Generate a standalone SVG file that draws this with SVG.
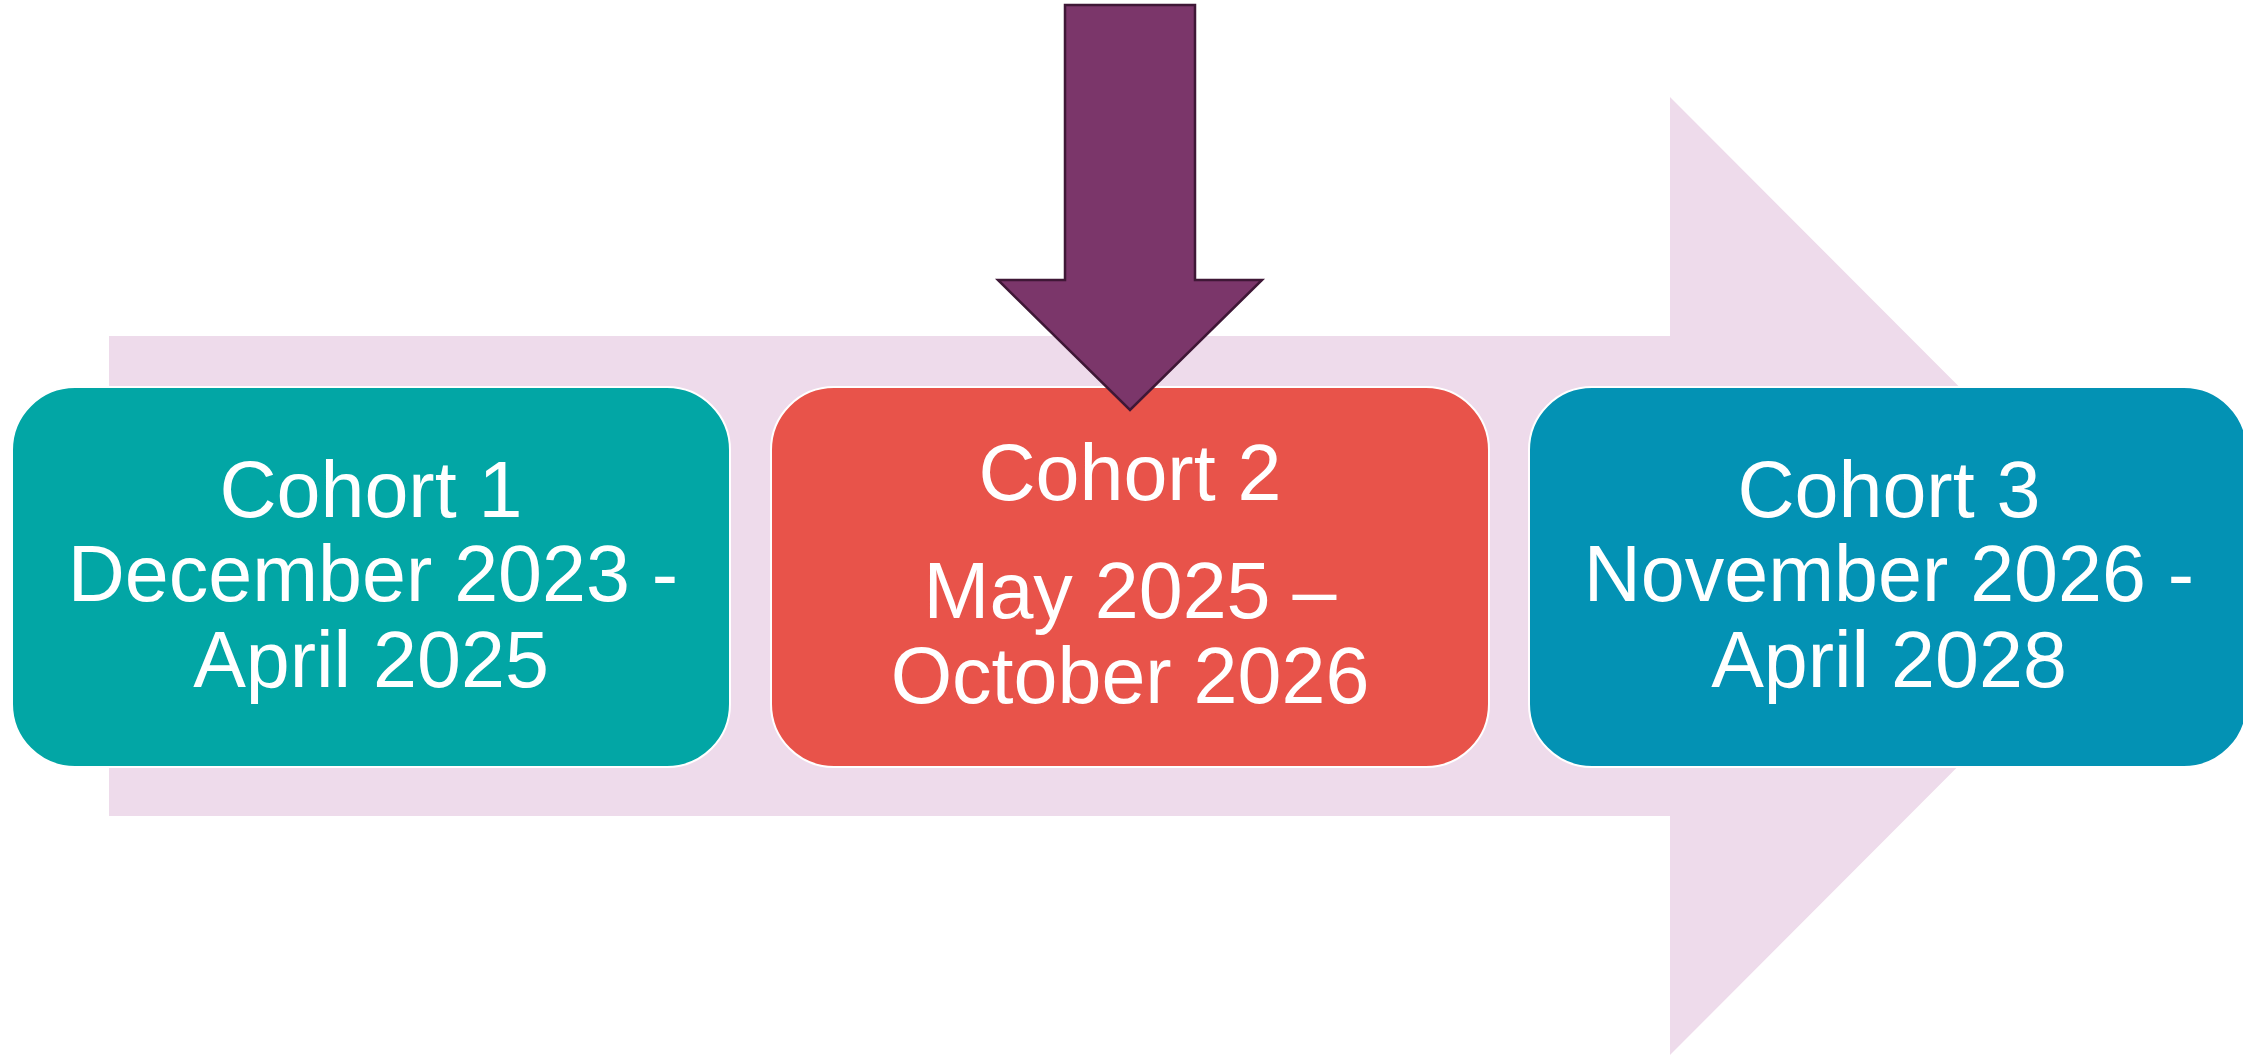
<svg xmlns="http://www.w3.org/2000/svg" width="2243" height="1055" viewBox="0 0 2243 1055">
<style>
.box{stroke:#ffffff;stroke-width:2}
.lbl{font-family:"Liberation Sans",Arial,sans-serif;font-size:79px;fill:#ffffff;text-anchor:middle}
</style>
<rect width="2243" height="1055" fill="#ffffff"/>
<g id="arrows">
<polygon id="timeline-arrow" points="109,336 1670,336 1670,97 2148,576 1670,1055 1670,816 109,816" fill="#EEDBEB"/>
</g>
<g id="cohort1">
<rect class="box" x="12" y="387" width="718" height="380" rx="63" ry="63" fill="#02A6A5"/>
<text class="lbl" x="371" y="517">Cohort 1</text>
<text class="lbl" x="373" y="601">December 2023 -</text>
<text class="lbl" x="371" y="687">April 2025</text>
</g>
<g id="cohort2">
<rect class="box" x="771" y="387" width="718" height="380" rx="63" ry="63" fill="#E8534A"/>
<text class="lbl" x="1130" y="500">Cohort 2</text>
<text class="lbl" x="1130" y="618">May 2025 –</text>
<text class="lbl" x="1130" y="703">October 2026</text>
</g>
<g id="cohort3">
<rect class="box" x="1529" y="387" width="718" height="380" rx="63" ry="63" fill="#0392B4"/>
<text class="lbl" x="1889" y="517">Cohort 3</text>
<text class="lbl" x="1889" y="601">November 2026 -</text>
<text class="lbl" x="1889" y="687">April 2028</text>
</g>
<g id="connectors">
<polygon id="pointer" points="1065,5 1195,5 1195,280 1262,280 1130,410 998,280 1065,280" fill="#7B366A" stroke="#3F1736" stroke-width="2.5" stroke-linejoin="miter"/>
</g>
</svg>
